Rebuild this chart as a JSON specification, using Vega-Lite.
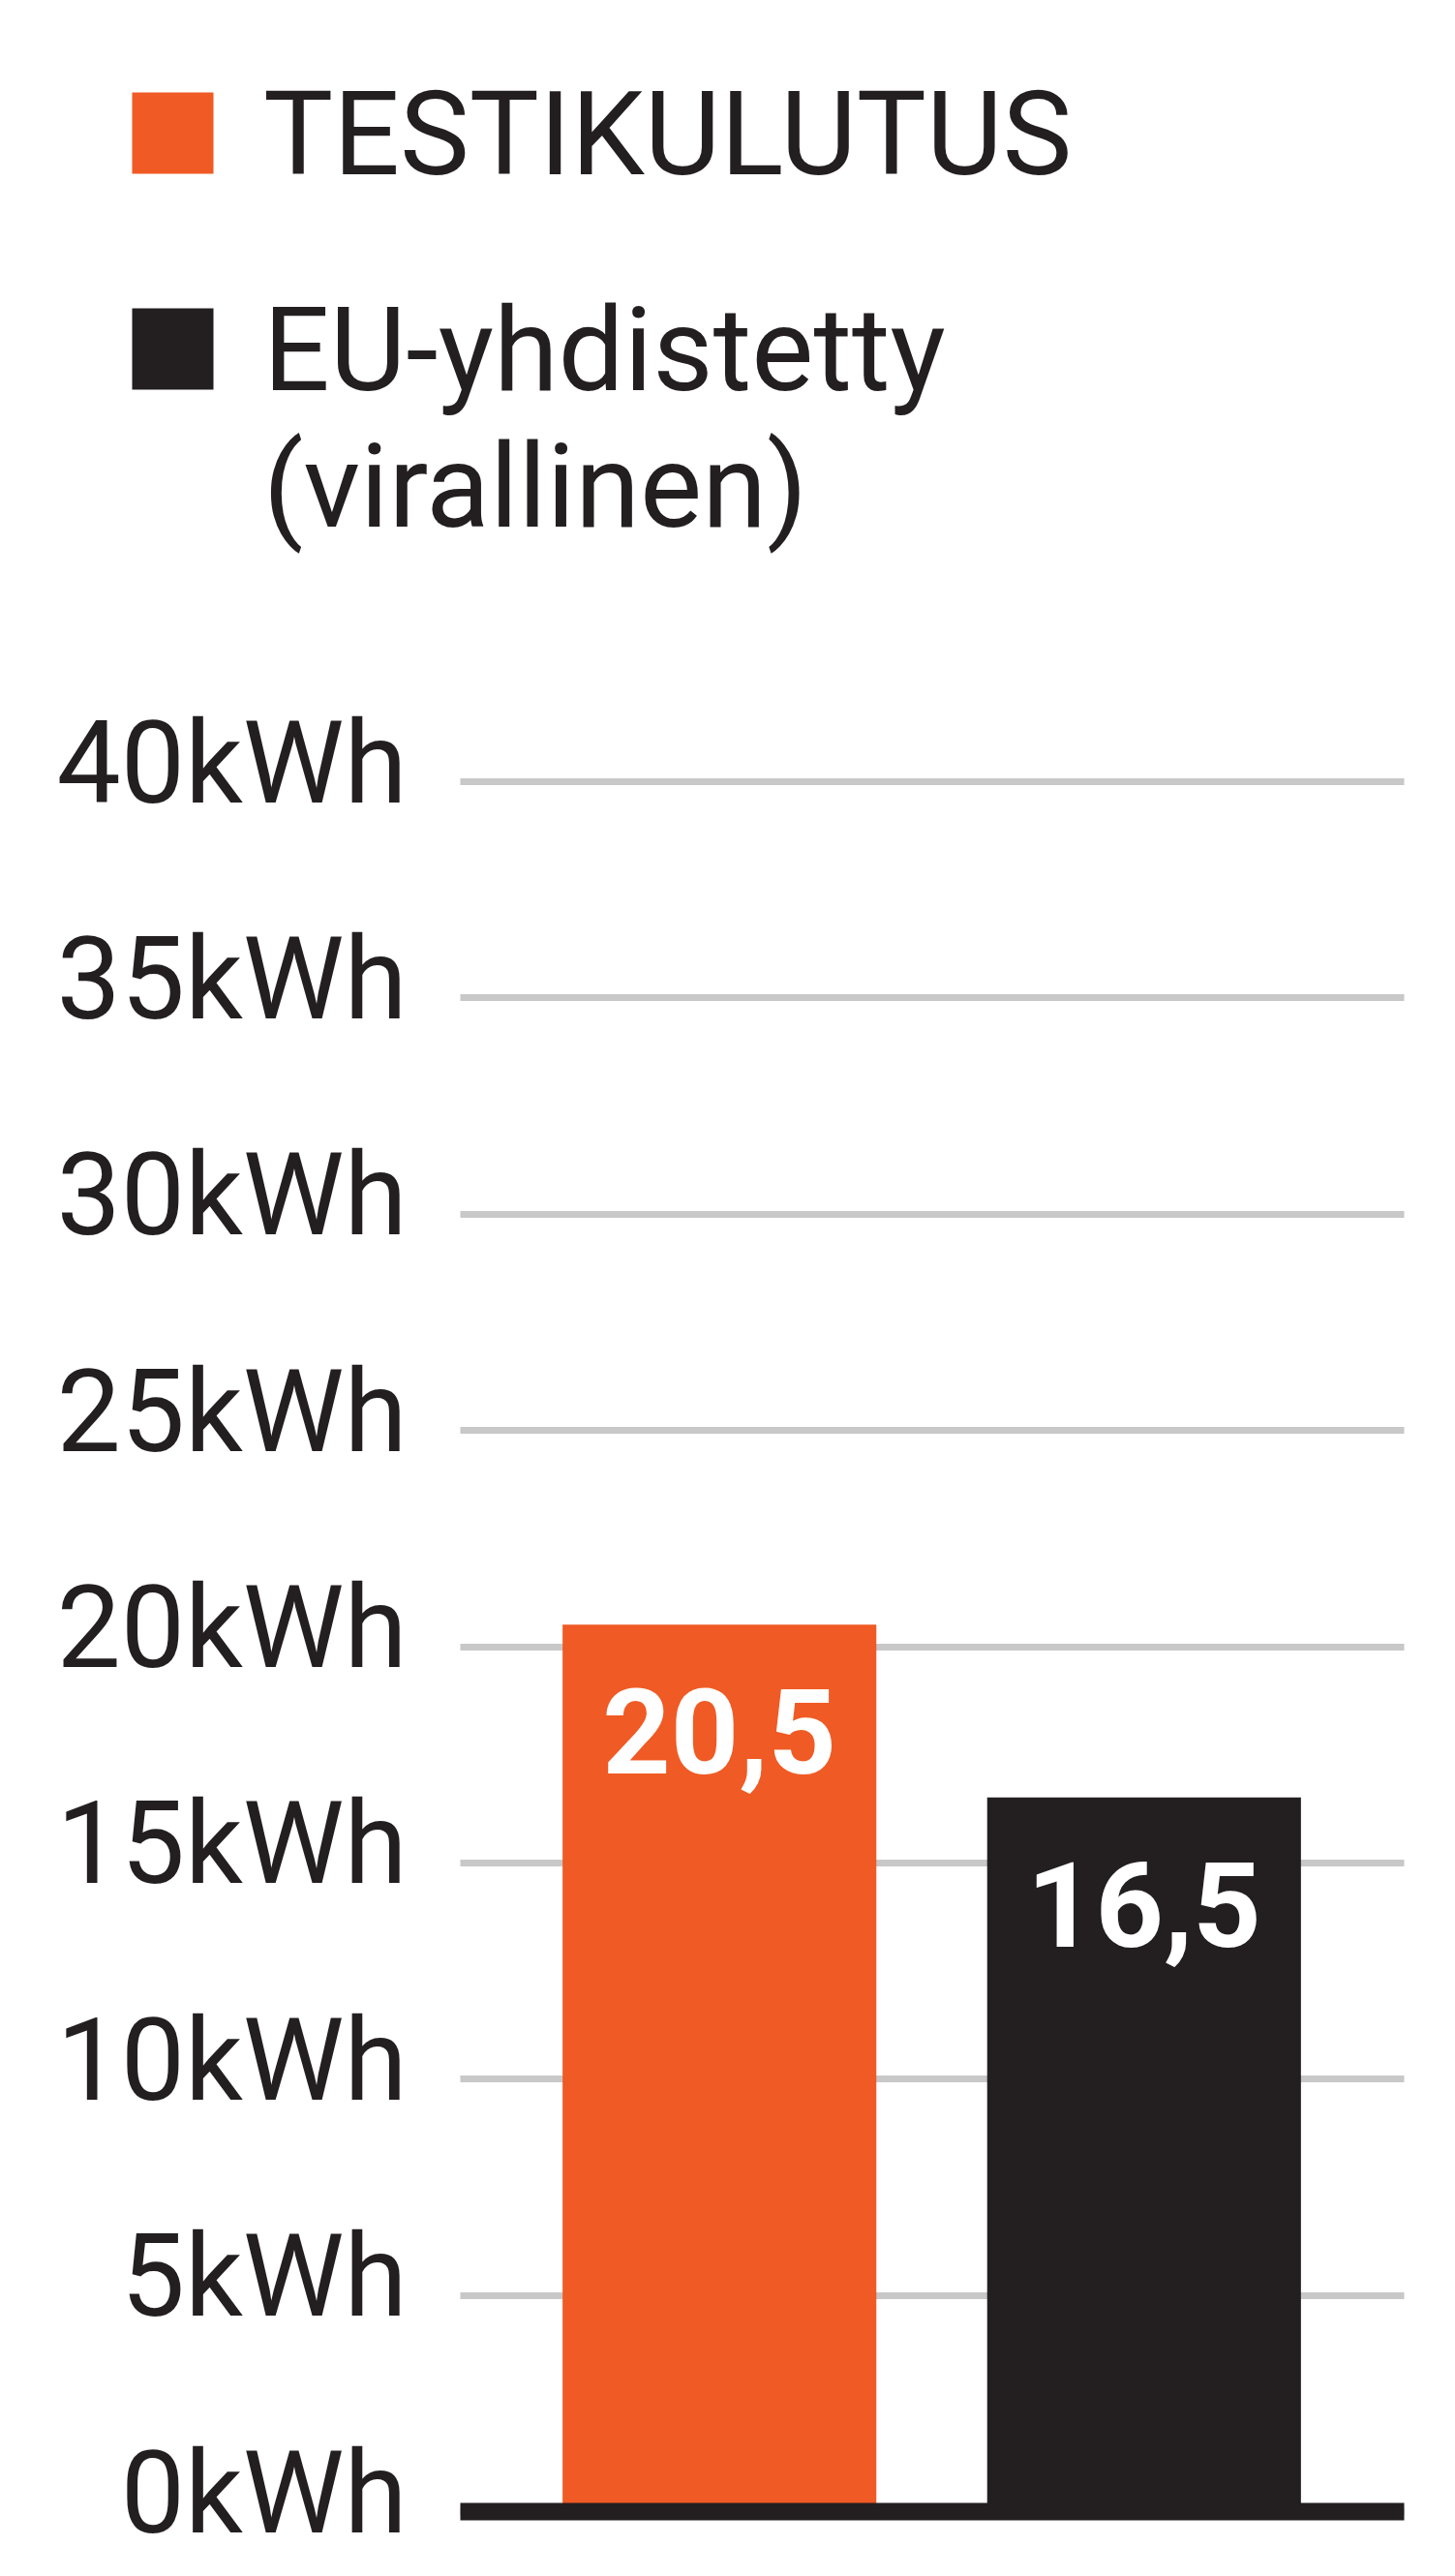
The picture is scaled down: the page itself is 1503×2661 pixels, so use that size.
{
  "$schema": "https://vega.github.io/schema/vega-lite/v6.json",
  "background": "#ffffff",
  "autosize": {"type": "none"},
  "padding": {"left": 475, "top": 807, "right": 53, "bottom": 67},
  "width": 975,
  "height": 1787,
  "config": {
    "view": {"stroke": null},
    "locale": {
      "number": {"decimal": ",", "thousands": " ", "grouping": [3], "currency": ["", " €"]}
    }
  },
  "data": {
    "values": [
      {"Sarja": "TESTIKULUTUS", "kWh": 20.5},
      {"Sarja": "EU-yhdistetty (virallinen)", "kWh": 16.5}
    ]
  },
  "encoding": {
    "x": {
      "field": "Sarja",
      "type": "nominal",
      "sort": null,
      "scale": {"paddingInner": 0.261, "paddingOuter": 0.242},
      "axis": {
        "title": null,
        "labels": false,
        "ticks": false,
        "grid": false,
        "domain": true,
        "domainColor": "#231F20",
        "domainWidth": 18,
        "zindex": 1
      }
    },
    "y": {
      "field": "kWh",
      "type": "quantitative",
      "scale": {"domain": [0, 40], "nice": false},
      "axis": {
        "title": null,
        "values": [0, 5, 10, 15, 20, 25, 30, 35, 40],
        "labelExpr": "datum.value == 0 ? '0kWh\u00a0\u200a' : datum.value + 'kWh'",
        "labelFont": "Roboto",
        "labelFontSize": 118,
        "labelColor": "#231F20",
        "labelPadding": 55,
        "labelLimit": 1000,
        "labelBaseline": "alphabetic",
        "labelOffset": 21,
        "labelFlush": false,
        "labelOverlap": false,
        "ticks": false,
        "domain": false,
        "grid": true,
        "gridColor": "#C8C8C8",
        "gridWidth": 7,
        "zindex": 0
      }
    }
  },
  "layer": [
    {
      "mark": {"type": "bar"},
      "encoding": {
        "color": {
          "field": "Sarja",
          "type": "nominal",
          "sort": null,
          "scale": {
            "domain": ["TESTIKULUTUS", "EU-yhdistetty (virallinen)"],
            "range": ["#F05A24", "#231F20"]
          },
          "legend": {
            "title": null,
            "orient": "none",
            "legendX": -357,
            "legendY": -730,
            "padding": 0,
            "symbolType": "square",
            "symbolSize": 7056,
            "symbolStrokeWidth": 0,
            "symbolOpacity": 1,
            "labelFont": "Roboto",
            "labelFontSize": 121,
            "labelColor": "#231F20",
            "labelOffset": 33,
            "labelLimit": 2000,
            "labelBaseline": "alphabetic",
            "rowPadding": 96,
            "labelExpr": "datum.value == 'EU-yhdistetty (virallinen)' ? ['EU-yhdistetty', '(virallinen)'] : datum.label",
            "encode": {
              "labels": {"update": {"dy": {"value": 42}, "lineHeight": {"value": 141}}}
            }
          }
        }
      }
    },
    {
      "mark": {
        "type": "text",
        "font": "Roboto",
        "fontWeight": "bold",
        "fontSize": 123,
        "color": "#ffffff",
        "align": "center",
        "baseline": "alphabetic",
        "dy": 154
      },
      "encoding": {
        "text": {"field": "kWh", "type": "quantitative", "format": ".1f"}
      }
    }
  ]
}
